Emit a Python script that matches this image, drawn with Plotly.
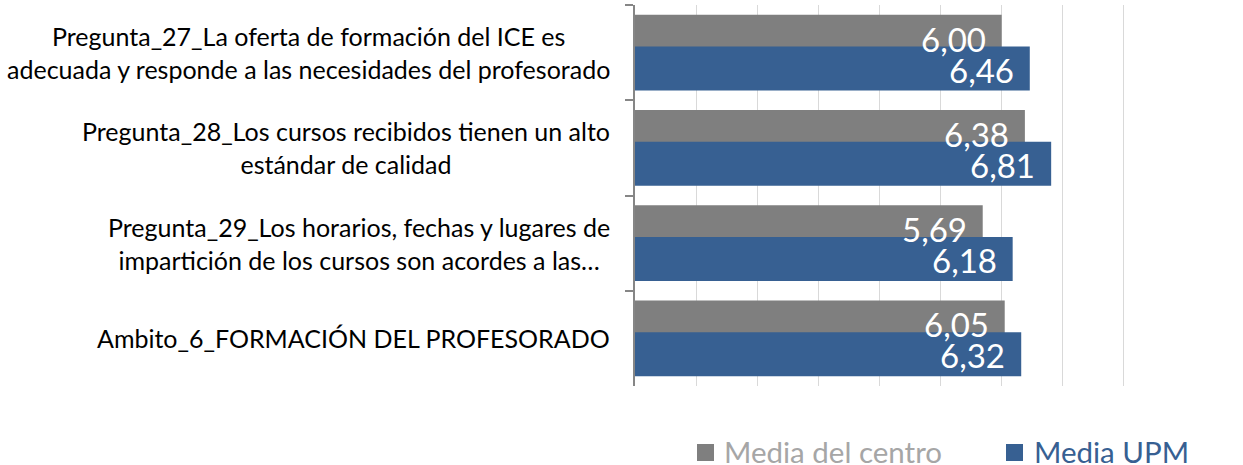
import plotly.graph_objects as go

categories = [
    "Pregunta_27_La oferta de formación del ICE es<br>adecuada y responde a las necesidades del profesorado",
    "Pregunta_28_Los cursos recibidos tienen un alto<br>estándar de calidad",
    "Pregunta_29_Los horarios, fechas y lugares de<br>impartición de los cursos son acordes a las…",
    "Ambito_6_FORMACIÓN DEL PROFESORADO",
]
media_centro = [6.00, 6.38, 5.69, 6.05]
media_upm = [6.46, 6.81, 6.18, 6.32]
series_names = ["Media del centro", "Media UPM"]

GRAY = "#7f7f7f"
BLUE = "#376092"
FONT = "Lato"

L, R, T, B = 635, 58, 5, 79
W, H = 1243, 465
pw = W - L - R
ph = H - T - B

fig = go.Figure()
bw = 0.46
fig.add_trace(go.Bar(y=categories, x=media_centro, orientation="h", name=series_names[0],
                     marker=dict(color=GRAY, line=dict(width=0)), width=bw, offset=-0.397,
                     showlegend=False, hoverinfo="x+y"))
fig.add_trace(go.Bar(y=categories, x=media_upm, orientation="h", name=series_names[1],
                     marker=dict(color=BLUE, line=dict(width=0)), width=bw, offset=-0.063,
                     showlegend=False, hoverinfo="x+y"))

def fmt(v):
    return f"{v:.2f}".replace(".", ",")

band_px = ph / len(categories)
ann = []
for c, v in zip(categories, media_centro):
    ann.append(dict(x=v, y=c, xref="x", yref="y", text=fmt(v), showarrow=False,
                    xanchor="right", yanchor="middle", xshift=-14, yshift=0.167 * band_px - 2,
                    font=dict(family=FONT, size=33, color="white")))
for c, v in zip(categories, media_upm):
    ann.append(dict(x=v, y=c, xref="x", yref="y", text=fmt(v), showarrow=False,
                    xanchor="right", yanchor="middle", xshift=-14, yshift=-0.167 * band_px - 1,
                    font=dict(family=FONT, size=33, color="white")))
# category labels (centered multi-line)
for c in categories:
    ann.append(dict(x=0, y=c, xref="paper", yref="y", text=c, showarrow=False,
                    xanchor="right", yanchor="middle", align="center", xshift=-23,
                    font=dict(family=FONT, size=25, color="#000000")))

def px_x(p):
    return (p - L) / pw

def px_y(p):
    return (H - B - p) / ph

# custom legend
shapes = [
    dict(type="rect", xref="paper", yref="paper", x0=px_x(697), x1=px_x(714), y0=px_y(444), y1=px_y(461),
         fillcolor=GRAY, line=dict(width=0)),
    dict(type="rect", xref="paper", yref="paper", x0=px_x(1006), x1=px_x(1023), y0=px_y(444), y1=px_y(461),
         fillcolor=BLUE, line=dict(width=0)),
]
ann.append(dict(x=px_x(722), y=px_y(451), xref="paper", yref="paper", text=series_names[0], showarrow=False,
                xanchor="left", yanchor="middle", font=dict(family=FONT, size=29.5, color="#a6a6a6")))
ann.append(dict(x=px_x(1032), y=px_y(451), xref="paper", yref="paper", text=series_names[1], showarrow=False,
                xanchor="left", yanchor="middle", font=dict(family=FONT, size=29.5, color=BLUE)))

fig.update_layout(
    width=W, height=H,
    margin=dict(l=L, r=R, t=T, b=B),
    paper_bgcolor="white", plot_bgcolor="white",
    barmode="overlay",
    showlegend=False,
    annotations=ann,
    shapes=shapes,
    xaxis=dict(range=[0, 9], dtick=1, showgrid=True, gridcolor="#d9d9d9", gridwidth=1.3,
               showticklabels=False, zeroline=False, showline=False, ticks=""),
    yaxis=dict(type="category", range=[3.5, -0.5], showticklabels=False, showline=True,
               linecolor="#868686", linewidth=2, ticks="outside", tickson="boundaries",
               ticklen=8, tickcolor="#868686", tickwidth=2, showgrid=False),
)

fig.write_html("out.html", config={"displayModeBar": False},
               post_script="document.body.style.margin='0';document.body.style.overflow='hidden';")
